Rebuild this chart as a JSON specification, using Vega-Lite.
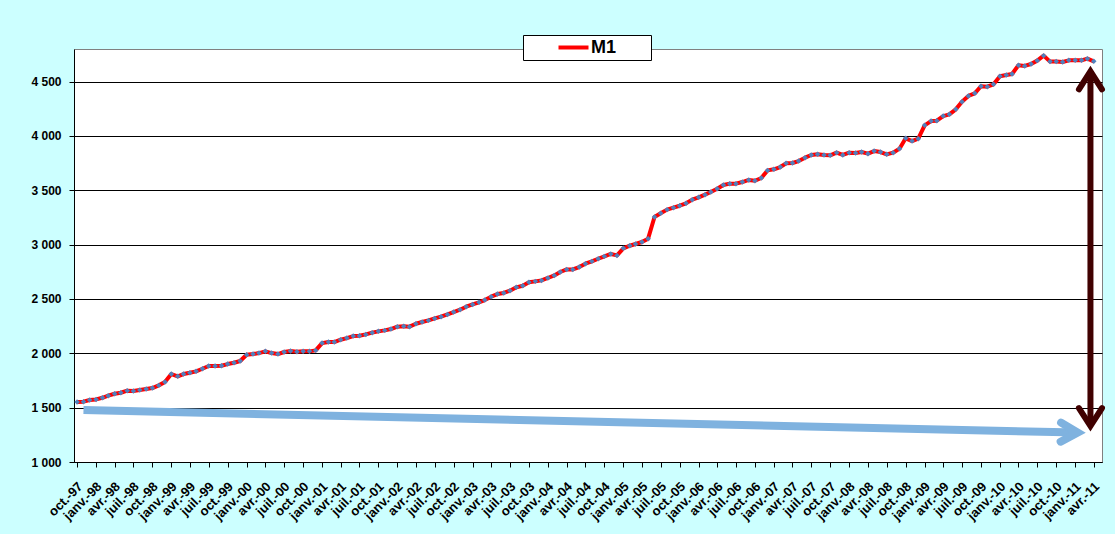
{
  "$schema": "https://vega.github.io/schema/vega-lite/v6.json",
  "width": 1028,
  "height": 413,
  "autosize": {"type": "none"},
  "padding": {"left": 74, "top": 49, "right": 13, "bottom": 72},
  "background": "#CCFFFF",
  "datasets": {
    "m1": [
      {"date": "1997-10-01", "M1": 1552}, {"date": "1997-11-01", "M1": 1555}, {"date": "1997-12-01", "M1": 1570},
      {"date": "1998-01-01", "M1": 1576}, {"date": "1998-02-01", "M1": 1591}, {"date": "1998-03-01", "M1": 1610},
      {"date": "1998-04-01", "M1": 1628}, {"date": "1998-05-01", "M1": 1637}, {"date": "1998-06-01", "M1": 1656},
      {"date": "1998-07-01", "M1": 1653}, {"date": "1998-08-01", "M1": 1662}, {"date": "1998-09-01", "M1": 1671},
      {"date": "1998-10-01", "M1": 1680}, {"date": "1998-11-01", "M1": 1705}, {"date": "1998-12-01", "M1": 1736},
      {"date": "1999-01-01", "M1": 1809}, {"date": "1999-02-01", "M1": 1788}, {"date": "1999-03-01", "M1": 1809},
      {"date": "1999-04-01", "M1": 1821}, {"date": "1999-05-01", "M1": 1834}, {"date": "1999-06-01", "M1": 1858},
      {"date": "1999-07-01", "M1": 1883}, {"date": "1999-08-01", "M1": 1883}, {"date": "1999-09-01", "M1": 1886},
      {"date": "1999-10-01", "M1": 1901}, {"date": "1999-11-01", "M1": 1913}, {"date": "1999-12-01", "M1": 1929},
      {"date": "2000-01-01", "M1": 1987}, {"date": "2000-02-01", "M1": 1993}, {"date": "2000-03-01", "M1": 2002},
      {"date": "2000-04-01", "M1": 2018}, {"date": "2000-05-01", "M1": 2002}, {"date": "2000-06-01", "M1": 1993},
      {"date": "2000-07-01", "M1": 2012}, {"date": "2000-08-01", "M1": 2021}, {"date": "2000-09-01", "M1": 2015},
      {"date": "2000-10-01", "M1": 2018}, {"date": "2000-11-01", "M1": 2018}, {"date": "2000-12-01", "M1": 2027},
      {"date": "2001-01-01", "M1": 2094}, {"date": "2001-02-01", "M1": 2104}, {"date": "2001-03-01", "M1": 2104},
      {"date": "2001-04-01", "M1": 2125}, {"date": "2001-05-01", "M1": 2140}, {"date": "2001-06-01", "M1": 2159},
      {"date": "2001-07-01", "M1": 2162}, {"date": "2001-08-01", "M1": 2174}, {"date": "2001-09-01", "M1": 2190},
      {"date": "2001-10-01", "M1": 2202}, {"date": "2001-11-01", "M1": 2211}, {"date": "2001-12-01", "M1": 2223},
      {"date": "2002-01-01", "M1": 2245}, {"date": "2002-02-01", "M1": 2248}, {"date": "2002-03-01", "M1": 2245},
      {"date": "2002-04-01", "M1": 2272}, {"date": "2002-05-01", "M1": 2288}, {"date": "2002-06-01", "M1": 2303},
      {"date": "2002-07-01", "M1": 2321}, {"date": "2002-08-01", "M1": 2337}, {"date": "2002-09-01", "M1": 2358},
      {"date": "2002-10-01", "M1": 2380}, {"date": "2002-11-01", "M1": 2401}, {"date": "2002-12-01", "M1": 2429},
      {"date": "2003-01-01", "M1": 2450}, {"date": "2003-02-01", "M1": 2469}, {"date": "2003-03-01", "M1": 2490},
      {"date": "2003-04-01", "M1": 2521}, {"date": "2003-05-01", "M1": 2545}, {"date": "2003-06-01", "M1": 2555},
      {"date": "2003-07-01", "M1": 2576}, {"date": "2003-08-01", "M1": 2607}, {"date": "2003-09-01", "M1": 2622},
      {"date": "2003-10-01", "M1": 2653}, {"date": "2003-11-01", "M1": 2662}, {"date": "2003-12-01", "M1": 2671},
      {"date": "2004-01-01", "M1": 2693}, {"date": "2004-02-01", "M1": 2717}, {"date": "2004-03-01", "M1": 2748},
      {"date": "2004-04-01", "M1": 2772}, {"date": "2004-05-01", "M1": 2772}, {"date": "2004-06-01", "M1": 2794},
      {"date": "2004-07-01", "M1": 2825}, {"date": "2004-08-01", "M1": 2846}, {"date": "2004-09-01", "M1": 2870},
      {"date": "2004-10-01", "M1": 2892}, {"date": "2004-11-01", "M1": 2914}, {"date": "2004-12-01", "M1": 2901},
      {"date": "2005-01-01", "M1": 2966}, {"date": "2005-02-01", "M1": 2990}, {"date": "2005-03-01", "M1": 3006},
      {"date": "2005-04-01", "M1": 3024}, {"date": "2005-05-01", "M1": 3055}, {"date": "2005-06-01", "M1": 3254},
      {"date": "2005-07-01", "M1": 3288}, {"date": "2005-08-01", "M1": 3322}, {"date": "2005-09-01", "M1": 3340},
      {"date": "2005-10-01", "M1": 3358}, {"date": "2005-11-01", "M1": 3380}, {"date": "2005-12-01", "M1": 3414},
      {"date": "2006-01-01", "M1": 3435}, {"date": "2006-02-01", "M1": 3460}, {"date": "2006-03-01", "M1": 3484},
      {"date": "2006-04-01", "M1": 3515}, {"date": "2006-05-01", "M1": 3549}, {"date": "2006-06-01", "M1": 3561},
      {"date": "2006-07-01", "M1": 3561}, {"date": "2006-08-01", "M1": 3576}, {"date": "2006-09-01", "M1": 3595},
      {"date": "2006-10-01", "M1": 3588}, {"date": "2006-11-01", "M1": 3613}, {"date": "2006-12-01", "M1": 3683},
      {"date": "2007-01-01", "M1": 3693}, {"date": "2007-02-01", "M1": 3714}, {"date": "2007-03-01", "M1": 3748},
      {"date": "2007-04-01", "M1": 3751}, {"date": "2007-05-01", "M1": 3769}, {"date": "2007-06-01", "M1": 3800},
      {"date": "2007-07-01", "M1": 3825}, {"date": "2007-08-01", "M1": 3831}, {"date": "2007-09-01", "M1": 3825},
      {"date": "2007-10-01", "M1": 3822}, {"date": "2007-11-01", "M1": 3846}, {"date": "2007-12-01", "M1": 3825},
      {"date": "2008-01-01", "M1": 3846}, {"date": "2008-02-01", "M1": 3843}, {"date": "2008-03-01", "M1": 3852},
      {"date": "2008-04-01", "M1": 3837}, {"date": "2008-05-01", "M1": 3861}, {"date": "2008-06-01", "M1": 3852},
      {"date": "2008-07-01", "M1": 3831}, {"date": "2008-08-01", "M1": 3846}, {"date": "2008-09-01", "M1": 3883},
      {"date": "2008-10-01", "M1": 3978}, {"date": "2008-11-01", "M1": 3953}, {"date": "2008-12-01", "M1": 3975},
      {"date": "2009-01-01", "M1": 4098}, {"date": "2009-02-01", "M1": 4137}, {"date": "2009-03-01", "M1": 4140},
      {"date": "2009-04-01", "M1": 4183}, {"date": "2009-05-01", "M1": 4199}, {"date": "2009-06-01", "M1": 4245},
      {"date": "2009-07-01", "M1": 4315}, {"date": "2009-08-01", "M1": 4368}, {"date": "2009-09-01", "M1": 4392},
      {"date": "2009-10-01", "M1": 4457}, {"date": "2009-11-01", "M1": 4453}, {"date": "2009-12-01", "M1": 4475},
      {"date": "2010-01-01", "M1": 4549}, {"date": "2010-02-01", "M1": 4561}, {"date": "2010-03-01", "M1": 4570},
      {"date": "2010-04-01", "M1": 4650}, {"date": "2010-05-01", "M1": 4644}, {"date": "2010-06-01", "M1": 4662},
      {"date": "2010-07-01", "M1": 4693}, {"date": "2010-08-01", "M1": 4739}, {"date": "2010-09-01", "M1": 4684},
      {"date": "2010-10-01", "M1": 4684}, {"date": "2010-11-01", "M1": 4680}, {"date": "2010-12-01", "M1": 4696},
      {"date": "2011-01-01", "M1": 4696}, {"date": "2011-02-01", "M1": 4696}, {"date": "2011-03-01", "M1": 4711},
      {"date": "2011-04-01", "M1": 4687}
    ]
  },
  "encoding": {
    "x": {
      "field": "date", "type": "temporal",
      "scale": {"type": "utc", "domain": [{"year": 1997, "month": 9, "date": 16, "utc": true}, {"year": 2011, "month": 5, "date": 11, "utc": true}]},
      "axis": {
        "title": null, "grid": false,
        "domainColor": "black", "tickColor": "black", "tickSize": 5,
        "tickCount": {"interval": "month", "step": 3},
        "labelExpr": "['janv.','févr.','mars','avr.','mai','juin','juil.','août','sept.','oct.','nov.','déc.'][utcmonth(datum.value)] + '-' + utcFormat(datum.value, '%y')",
        "labelAngle": -45, "labelAlign": "right", "labelBaseline": "middle",
        "labelFont": "Liberation Sans", "labelFontSize": 13, "labelFontWeight": "bold", "labelColor": "black",
        "labelPadding": 17, "labelOffset": 3, "labelOverlap": false, "labelFlush": false, "labelBound": false
      }
    },
    "y": {
      "field": "M1", "type": "quantitative",
      "scale": {"domain": [1000, 4800], "nice": false, "zero": false},
      "axis": {
        "title": null,
        "values": [1000, 1500, 2000, 2500, 3000, 3500, 4000, 4500],
        "grid": true, "gridColor": "black", "gridWidth": 1,
        "domainColor": "black", "tickColor": "black", "tickSize": 5,
        "labelExpr": "replace(format(datum.value, ','), ',', ' ')",
        "labelFont": "Liberation Sans", "labelFontSize": 12, "labelFontWeight": "bold", "labelColor": "black",
        "labelPadding": 8
      }
    }
  },
  "layer": [
    {
      "data": {"name": "m1"},
      "mark": {"type": "line", "strokeWidth": 4, "strokeJoin": "round"},
      "encoding": {
        "color": {
          "datum": "M1",
          "scale": {"range": ["#FF0000"]},
          "legend": {
            "orient": "none", "legendX": 449, "legendY": -14,
            "title": "M1", "titleOrient": "right", "titleOpacity": 0, "titleFontSize": 18, "titleFontWeight": "bold", "titlePadding": 6,
            "symbolType": "M-2,0L2,0", "symbolSize": 225, "symbolStrokeWidth": 4,
            "symbolOffset": 38, "labelOffset": 8,
            "labelFont": "Liberation Sans", "labelFontSize": 18, "labelFontWeight": "bold", "labelColor": "black",
            "fillColor": "white", "strokeColor": "black", "padding": 3
          }
        }
      }
    },
    {
      "data": {"name": "m1"},
      "mark": {"type": "point", "shape": "diamond", "filled": true, "color": "#4F81BD", "size": 30, "opacity": 1}
    },
    {
      "data": {"values": [{"date": "1997-11-01", "M1": 1478, "date_end": "2011-01-13", "M1_end": 1271}]},
      "mark": {"type": "rule", "color": "#7FB2DF", "strokeWidth": 8, "strokeCap": "butt"},
      "encoding": {
        "x2": {"field": "date_end"},
        "y2": {"field": "M1_end"}
      }
    },
    {
      "data": {"values": [{"date": "2011-01-13", "M1": 1271}]},
      "mark": {"type": "point", "shape": "M-1,1.77L0,0L1,1.77", "filled": false, "color": "#7FB2DF", "strokeWidth": 8, "size": 361, "angle": 91.3, "strokeCap": "round", "strokeJoin": "miter", "opacity": 1}
    },
    {
      "data": {"values": [{"date": "2011-03-16", "M1": 4594, "M1_end": 1331}]},
      "mark": {"type": "rule", "color": "#400000", "strokeWidth": 6, "strokeCap": "butt"},
      "encoding": {
        "y2": {"field": "M1_end"}
      }
    },
    {
      "data": {"values": [{"date": "2011-03-16", "M1": 4594}]},
      "mark": {"type": "point", "shape": "M-1,1.56L0,0L1,1.56", "filled": false, "color": "#400000", "strokeWidth": 6, "size": 529, "angle": 0, "strokeCap": "round", "strokeJoin": "miter", "opacity": 1}
    },
    {
      "data": {"values": [{"date": "2011-03-16", "M1": 1331}]},
      "mark": {"type": "point", "shape": "M-1,1.56L0,0L1,1.56", "filled": false, "color": "#400000", "strokeWidth": 6, "size": 529, "angle": 180, "strokeCap": "round", "strokeJoin": "miter", "opacity": 1}
    }
  ],
  "config": {
    "view": {"stroke": "#808080", "strokeWidth": 1, "fill": "white"},
    "font": "Liberation Sans"
  }
}
